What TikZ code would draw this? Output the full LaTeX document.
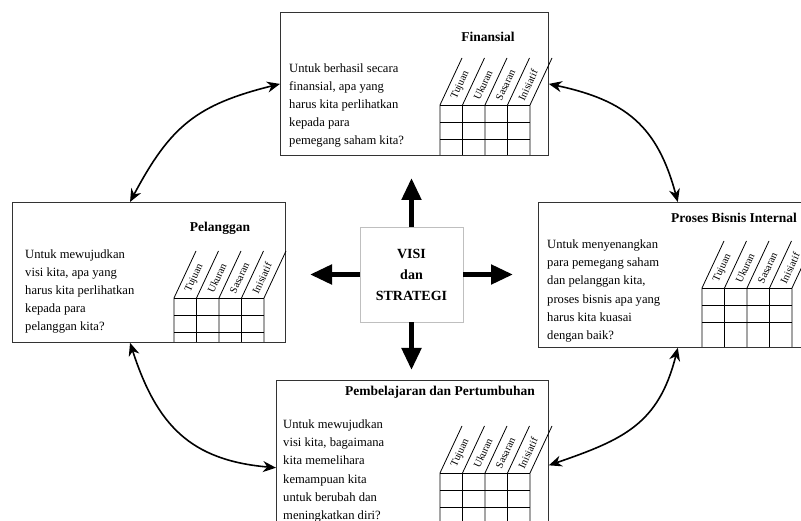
\documentclass[tikz,border=0pt]{standalone}
\usepackage{fontspec}
\setmainfont{Liberation Serif}
\usetikzlibrary{arrows.meta}

\tikzset{
  kotak/.style={draw=black!80, line width=0.8pt, rectangle, anchor=north west, inner sep=0pt},
  judul/.style={font=\fontsize{13.5}{16}\selectfont\bfseries},
  tanya/.style={anchor=west, align=left, inner sep=0pt, font=\fontsize{12.6}{18.2}\selectfont},
  kolom/.style={rotate=65, inner sep=0pt, font=\fontsize{10.5}{11}\selectfont},
  garis/.style={line width=0.8pt},
  panah/.style={line width=5pt, -{Triangle[length=22pt,width=19pt]}},
  siklus/.style={line width=1.6pt, {Stealth[length=13pt,width=11pt]}-{Stealth[length=13pt,width=11pt]}},
}

% score table: name, x left, y top of grid, y bottom of box
\newcommand{\tabelbsc}[4]{%
  \foreach \i/\lbl in {0/Tujuan,1/Ukuran,2/Sasaran,3/Inisiatif}
    \node[kolom] (#1k\i) at ({#2+22.5*\i+20.5},{#3+20}) {\lbl};%
  \foreach \i in {0,...,4}
    \draw[garis] ({#2+22.5*\i},#4) -- ({#2+22.5*\i},#3) -- ++(22,47);%
  \foreach \j in {0,1,2}
    \draw[garis] (#2,{#3-17*\j}) -- ({#2+90},{#3-17*\j});%
}

\begin{document}
\begin{tikzpicture}[x=1pt,y=1pt]
  \useasboundingbox (0,0) rectangle (801,520);

  % Drawing box Finansial
  \node[kotak, minimum width=268pt, minimum height=143pt] (fin) at (280,508) {};%
  \node[judul] (finjudul) at (488,483) {Finansial};%
  \node[tanya] (fintanya) at (289,414.5) {Untuk berhasil secara\\finansial, apa yang\\harus kita perlihatkan\\kepada para\\pemegang saham kita?};%
  \tabelbsc{fin}{440}{415}{365}

  % Drawing box Pelanggan
  \node[kotak, minimum width=273pt, minimum height=140pt] (pel) at (12,318) {};%
  \node[judul] (peljudul) at (220,292) {Pelanggan};%
  \node[tanya] (peltanya) at (25,228.5) {Untuk mewujudkan\\visi kita, apa yang\\harus kita perlihatkan\\kepada para\\pelanggan kita?};%
  \tabelbsc{pel}{174}{222}{178}

  % Drawing box Proses Bisnis Internal
  \node[kotak, minimum width=266pt, minimum height=145pt] (pro) at (538,318) {};%
  \node[judul] (projudul) at (734,302) {Proses Bisnis Internal};%
  \node[tanya] (protanya) at (547,229) {Untuk menyenangkan\\para pemegang saham\\dan pelanggan kita,\\proses bisnis apa yang\\harus kita kuasai\\dengan baik?};%
  \tabelbsc{pro}{702}{232}{173}

  % Drawing box Pembelajaran dan Pertumbuhan
  \node[kotak, minimum width=272pt, minimum height=146pt] (pb) at (276,140) {};%
  \node[judul] (pbjudul) at (440,128) {Pembelajaran dan Pertumbuhan};%
  \node[tanya] (pbtanya) at (283,49) {Untuk mewujudkan\\visi kita, bagaimana\\kita memelihara\\kemampuan kita\\untuk berubah dan\\meningkatkan diri?};%
  \tabelbsc{pb}{440}{47}{-6}

  % Drawing box VISI dan STRATEGI
  \node[draw=black!25, line width=0.5pt, minimum width=103pt, minimum height=95pt, align=center,
        font=\fontsize{14}{21}\selectfont\bfseries] (vs) at (411.5,245.5) {VISI\\dan\\STRATEGI};%

  % Drawing arrows from the centre
  \coordinate (atas) at (411.5,342);
  \coordinate (kiri) at (310,245.5);
  \coordinate (kanan) at (513,245.5);
  \coordinate (bawah) at (411.5,150);
  \draw[panah] (vs.north) -- (atas);%
  \draw[panah] (vs.west) -- (kiri);%
  \draw[panah] (vs.east) -- (kanan);%
  \draw[panah] (vs.south) -- (bawah);%

  % Drawing cycle arrows
  \draw[siklus] (pel.105) to[out=62,in=194,looseness=1.15] (fin.west);%
  \draw[siklus] (fin.east) to[out=-12,in=105,looseness=1.15] (pro.85);%
  \draw[siklus] (pel.255) to[out=-72,in=175,looseness=1.15] (pb.186);%
  \draw[siklus] (pro.275) to[out=-104,in=19,looseness=1.15] (pb.355);%
\end{tikzpicture}
\end{document}
